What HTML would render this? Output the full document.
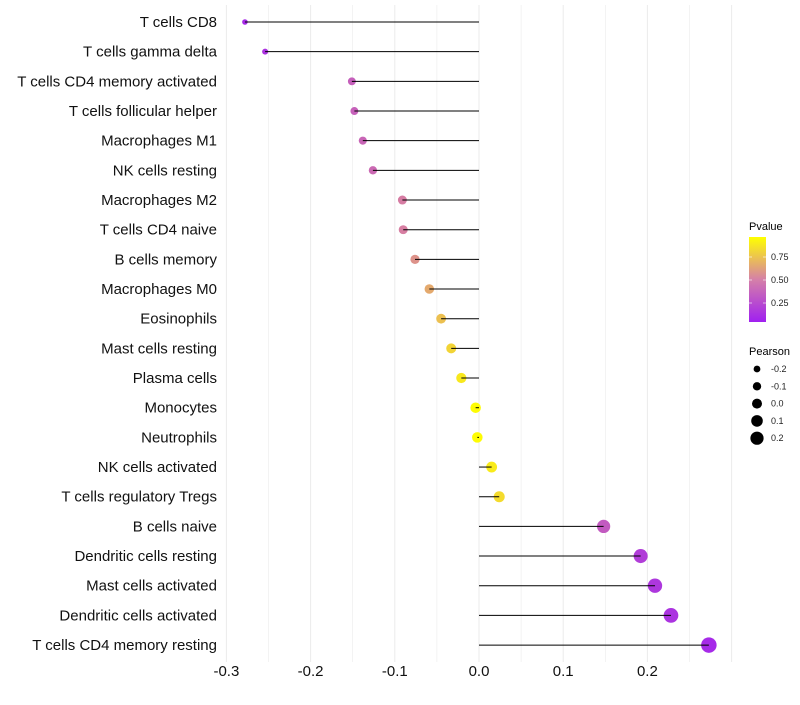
<!DOCTYPE html>
<html><head><meta charset="utf-8"><style>
body{margin:0;background:#fff;font-family:"Liberation Sans",sans-serif}
svg text{font-family:"Liberation Sans",sans-serif}
</style></head><body>
<svg id="c" width="800" height="700" xmlns="http://www.w3.org/2000/svg">
<defs><linearGradient id="pg" x1="0" y1="1" x2="0" y2="0">
<stop offset="0" stop-color="#a020f0"/><stop offset="0.5" stop-color="#d580a8"/><stop offset="1" stop-color="#ffff00"/>
</linearGradient></defs>
<g id="grid"></g><g id="marks"></g><g id="axes"></g>
<g id="legend">
<text x="749" y="230" font-size="11">Pvalue</text>
<rect x="749" y="237" width="17" height="85" fill="url(#pg)"/>
<g id="cbticks"></g>
<text x="749" y="355" font-size="11">Pearson</text>
<g id="sizeleg"></g>
</g>
</svg>
<script>
const categories=["T cells CD8","T cells gamma delta","T cells CD4 memory activated","T cells follicular helper","Macrophages M1","NK cells resting","Macrophages M2","T cells CD4 naive","B cells memory","Macrophages M0","Eosinophils","Mast cells resting","Plasma cells","Monocytes","Neutrophils","NK cells activated","T cells regulatory  Tregs ","B cells naive","Dendritic cells resting","Mast cells activated","Dendritic cells activated","T cells CD4 memory resting"];
const pearson=[-0.278,-0.254,-0.151,-0.148,-0.138,-0.126,-0.091,-0.090,-0.076,-0.059,-0.045,-0.033,-0.021,-0.004,-0.002,0.015,0.024,0.148,0.192,0.209,0.228,0.273];
const pvalue=[0.05,0.1,0.33,0.34,0.36,0.38,0.48,0.49,0.57,0.66,0.75,0.83,0.91,0.99,0.99,0.92,0.86,0.3,0.15,0.12,0.1,0.05];
const xTicks=[-0.3,-0.2,-0.1,0.0,0.1,0.2];
const xTickLabels=["-0.3","-0.2","-0.1","0.0","0.1","0.2"];
const pTicks=[0.25,0.5,0.75];
const pTickLabels=["0.25","0.50","0.75"];
const sizeVals=[-0.2,-0.1,0.0,0.1,0.2];
const sizeLabels=["-0.2","-0.1","0.0","0.1","0.2"];

const NS="http://www.w3.org/2000/svg";
const X=v=>479+v*842;
const Y=i=>22+i*29.67;
const R=v=>5.3+9*v;
const RL=v=>5+8*v;
const PY=p=>326-p*92;
function lerp(a,b,t){return a.map((x,k)=>Math.round(x+(b[k]-x)*t));}
function col(p){const a=[160,32,240],m=[216,128,160],b=[255,255,0];
 const c=p<0.5?lerp(a,m,p/0.5):lerp(m,b,(p-0.5)/0.5);return `rgb(${c[0]},${c[1]},${c[2]})`;}
function mk(t,at,parent){const e=document.createElementNS(NS,t);for(const k in at)e.setAttribute(k,at[k]);parent.appendChild(e);return e;}
const grid=document.getElementById('grid'),marks=document.getElementById('marks'),axes=document.getElementById('axes');
for(let v=-0.3;v<=0.301;v+=0.05){const e=mk('line',{x1:X(v),x2:X(v),y1:5,y2:662,stroke:'#ebebeb','stroke-width':Math.abs(Math.round(v*20))%2===0?1:0.6},grid);
 }
categories.forEach((c,i)=>{
 const d=mk('circle',{cx:X(pearson[i]),cy:Y(i),r:R(pearson[i]),fill:col(pvalue[i])},marks);
 
 const s=mk('line',{x1:X(0),x2:X(pearson[i]),y1:Y(i),y2:Y(i),stroke:'#000','stroke-width':1},marks);
 
 const t=mk('text',{x:217,y:Y(i)+5,'text-anchor':'end','font-size':15,fill:'#111'},axes);t.textContent=c;
 
});
xTicks.forEach((v,i)=>{const t=mk('text',{x:X(v),y:676,'text-anchor':'middle','font-size':15,fill:'#111'},axes);t.textContent=xTickLabels[i];
 });
const cb=document.getElementById('cbticks');
pTicks.forEach((p,i)=>{mk('line',{x1:749,x2:752,y1:PY(p),y2:PY(p),stroke:'#fff','stroke-width':0.6},cb);mk('line',{x1:763,x2:766,y1:PY(p),y2:PY(p),stroke:'#fff','stroke-width':0.6},cb);
 const t=mk('text',{x:771,y:PY(p)+3,'font-size':9,fill:'#222'},cb);t.textContent=pTickLabels[i];
 });
const sl=document.getElementById('sizeleg');
sizeVals.forEach((v,i)=>{const y=369+i*17.3;const d=mk('circle',{cx:757,cy:y,r:RL(v),fill:'#000'},sl);
 
 const t=mk('text',{x:771,y:y+3,'font-size':9,fill:'#222'},sl);t.textContent=sizeLabels[i];
 });
</script>
</body></html>
